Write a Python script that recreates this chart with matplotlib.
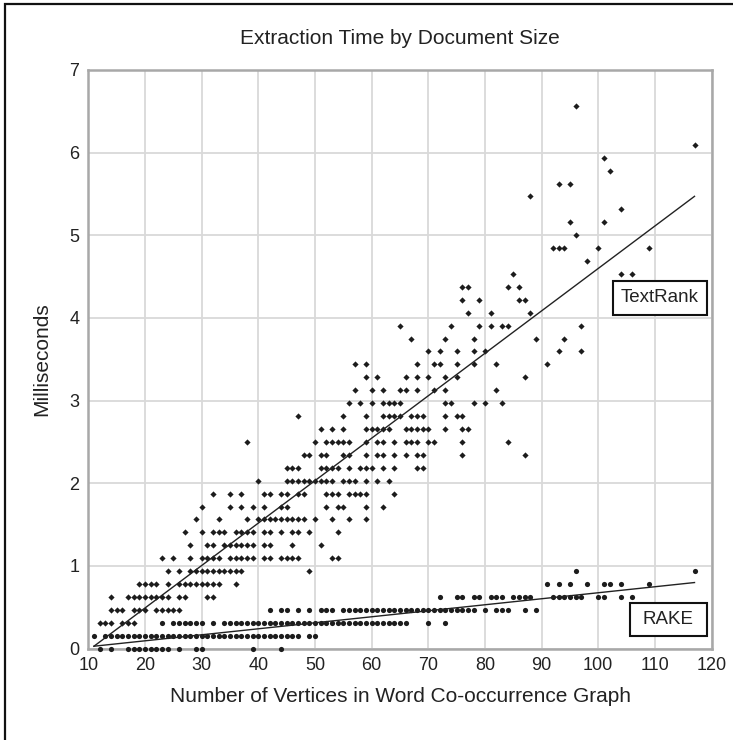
import matplotlib
matplotlib.use("Agg")
import matplotlib.pyplot as plt
from matplotlib.patches import Rectangle

plt.rcParams['font.family'] = ['Liberation Sans', 'DejaVu Sans']

title = "Extraction Time by Document Size"
xlabel = "Number of Vertices in Word Co-occurrence Graph"
ylabel = "Milliseconds"
xticks = list(range(10, 121, 10))
yticks = list(range(0, 8))

# All timings fall on steps of this clock resolution (ms)
step = 0.15625

def r(a, b):
    return list(range(a, b + 1))

# RAKE: step index -> document sizes
rake_k0 = [12, 14, 17, 18, 19, 20, 21, 22, 23, 24, 26, 29, 30, 39, 44]
rake_k1 = [11] + r(13, 47) + [49, 50]
rake_k2 = [23, 25, 26, 27, 28, 29, 30, 32] + r(34, 66) + [70, 73]
rake_k3 = [42, 44, 45, 47, 49, 51, 52, 53] + r(55, 78) + [80, 82, 83, 84, 87, 89]
rake_k4 = [72, 75, 76, 78, 79, 81, 82, 83, 85, 86, 87, 88, 92, 93, 94, 95, 96, 97, 100, 101, 104, 106]
rake_k5 = [91, 93, 95, 98, 101, 102, 104, 109]
rake_k6 = [96, 117]
rake_rows = [rake_k0, rake_k1, rake_k2, rake_k3, rake_k4, rake_k5, rake_k6]

# TextRank: step index -> document sizes
tr_rows = {
    2: [12, 13, 14, 16, 17, 18],
    3: [14, 15, 16, 18, 19, 20, 22, 23, 24, 25, 26],
    4: [14, 17, 18, 19, 20, 21, 22, 23, 24, 26, 27, 31, 32],
    5: [19, 20, 21, 22, 24, 26, 27, 28, 29, 30, 31, 32, 33, 36],
    6: [24, 26, 28, 29, 30, 31, 32, 33, 34, 35, 36, 37, 49],
    7: [23, 25, 28, 30, 31, 32, 33, 35, 36, 37, 38, 39, 41, 42, 44, 45, 46, 47, 53, 54],
    8: [28, 31, 32, 34, 35, 36, 37, 38, 39, 41, 42, 46, 51],
    9: [27, 30, 32, 33, 34, 36, 37, 38, 39, 41, 42, 44, 46, 47, 49, 54],
    10: [29, 33, 38, 40, 41, 42, 43, 44, 45, 46, 47, 48, 50, 53, 56, 59],
    11: [30, 35, 37, 39, 41, 44, 45, 52, 54, 55, 59, 62],
    12: [32, 35, 37, 41, 42, 44, 45, 47, 48, 52, 53, 54, 56, 57, 58, 59, 64],
    13: [40, 45, 46, 47, 48, 49, 50, 51, 52, 53, 55, 56, 57, 59, 61, 63],
    14: [45, 46, 47, 51, 52, 53, 54, 56, 58, 59, 60, 62, 64, 68, 69],
    15: [48, 49, 51, 52, 55, 56, 59, 61, 62, 64, 66, 68, 69, 76, 87],
    16: [38, 50, 52, 53, 54, 55, 56, 59, 61, 62, 64, 66, 67, 68, 70, 71, 76, 84],
    17: [51, 53, 55, 59, 60, 61, 62, 63, 66, 67, 68, 69, 70, 73, 76, 77],
    18: [47, 55, 59, 62, 63, 64, 65, 67, 68, 69, 73, 75, 76],
    19: [56, 58, 60, 62, 63, 64, 65, 73, 74, 78, 80, 83],
    20: [57, 60, 62, 65, 66, 68, 71, 73, 82],
    21: [59, 61, 66, 68, 70, 73, 75, 87],
    22: [57, 59, 68, 71, 72, 75, 78, 82, 91],
    23: [70, 72, 75, 78, 80, 93, 97],
    24: [67, 73, 78, 89, 94],
    25: [65, 74, 79, 81, 83, 84, 97],
    26: [77, 81, 88],
    27: [76, 79, 86, 87],
    28: [76, 77, 84, 86],
    29: [85, 104, 106],
    30: [98],
    31: [92, 93, 94, 100, 109],
    32: [96],
    33: [95, 101],
    34: [104],
    35: [88],
    36: [93, 95],
    37: [102],
    38: [101],
    39: [117],
    42: [96],
}

tr_line_x = [11, 117]
tr_line_y = [0.03, 5.47]
rake_line_x = [11, 117]
rake_line_y = [0.03, 0.80]

W, H = 733, 740
fig = plt.figure(figsize=(W / 100, H / 100), dpi=100, facecolor="white")
# Frame runs off the right and bottom edges of the picture
fig.add_artist(Rectangle((4.5 / W, -10 / H), (W + 10) / W, (H + 10 - 3.5) / H, transform=fig.transFigure,
                         fill=False, edgecolor="#111111", linewidth=1.6))

L, R, T, B = 88.3, 711.5, 69.8, 648.7
ax = fig.add_axes([L / W, 1 - B / H, (R - L) / W, (B - T) / H])
ax.set_xlim(10, 120)
ax.set_ylim(0, 7)
ax.set_xticks(xticks)
ax.set_yticks(yticks)
ax.grid(True, color="#d9d9d9", linewidth=1.3)
ax.set_axisbelow(True)
ax.tick_params(length=0, labelsize=13, colors="#222222", pad=6)
ax.tick_params(axis="y", pad=6.5)
for s in ax.spines.values():
    s.set_color("#a8a8a8")
    s.set_linewidth(1.8)

for k, xs in enumerate(rake_rows):
    ax.scatter(xs, [k * step] * len(xs), s=14, marker="o", color="#1c1c1c", linewidths=0,
               zorder=3, clip_on=False)
for k, xs in tr_rows.items():
    ax.scatter(xs, [k * step] * len(xs), s=10, marker="D", color="#1c1c1c", linewidths=0,
               zorder=3, clip_on=False)

ax.plot(tr_line_x, tr_line_y, color="#222222", linewidth=1.0, zorder=4)
ax.plot(rake_line_x, rake_line_y, color="#222222", linewidth=1.0, zorder=4)

ax.set_xlabel(xlabel, fontsize=15, color="#222222", va="center")
ax.xaxis.set_label_coords(400 / W, 1 - 697 / H, transform=fig.transFigure)
ax.set_ylabel(ylabel, fontsize=15, color="#222222", va="center")
ax.yaxis.set_label_coords(42 / W, 1 - 359 / H, transform=fig.transFigure)
fig.text(400 / W, 1 - 38.5 / H, title, ha="center", va="center", fontsize=15, color="#222222")

for label, x0, x1, y0, y1 in [("TextRank", 613, 707, 281, 315), ("RAKE", 630, 707, 603, 636)]:
    fig.text((x0 + x1) / 2 / W, 1 - (y0 + y1) / 2 / H, label, ha="center", va="center",
             fontsize=13.5, color="#222222", zorder=6)
    fig.add_artist(Rectangle((x0 / W, 1 - y1 / H), (x1 - x0) / W, (y1 - y0) / H,
                             transform=fig.transFigure, facecolor="white",
                             edgecolor="#111111", linewidth=1.5, zorder=5))

fig.savefig("out.png", dpi=100)
